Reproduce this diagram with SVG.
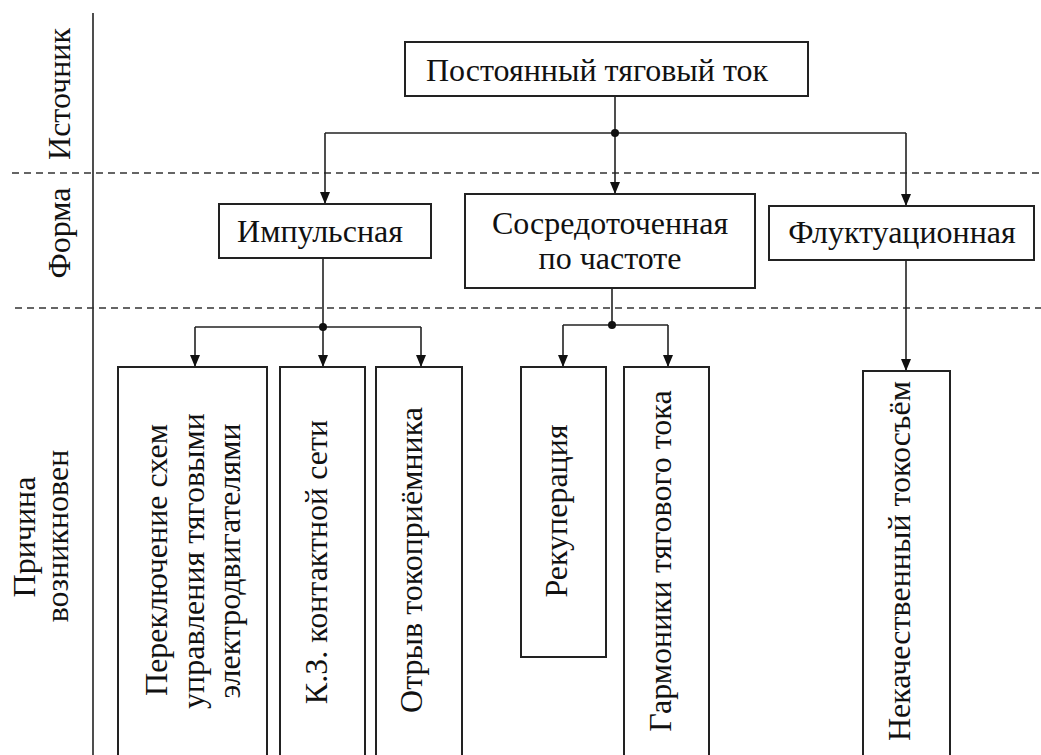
<svg xmlns="http://www.w3.org/2000/svg" width="1041" height="755" viewBox="0 0 1041 755">
  <style>
    .box { fill: #fff; stroke: #222; stroke-width: 2; }
    .lbl { font-size: 32px; fill: #111; }
    .mid { text-anchor: middle; }
    .wire { fill: none; stroke: #222; stroke-width: 1.6; }
    .arr { marker-end: url(#arrow); }
    .dash { stroke: #333; stroke-width: 1.4; stroke-dasharray: 7 5; fill: none; }
    .dot { fill: #111; }
  </style>
  <defs>
    <marker id="arrow" viewBox="0 0 12 10" refX="12" refY="5" markerWidth="12" markerHeight="10" markerUnits="userSpaceOnUse" orient="auto">
      <path d="M0,0 L12,5 L0,10 z" fill="#111"/>
    </marker>
  </defs>
  <rect width="1041" height="755" fill="#fff"/>

  <g font-family="'Liberation Serif', 'DejaVu Serif', serif">
  <!-- level separators and row labels -->
  <g id="levels">
    <line x1="93" y1="13" x2="93" y2="755" class="wire"/>
    <line x1="12" y1="173" x2="1041" y2="173" class="dash"/>
    <line x1="15" y1="308" x2="1041" y2="308" class="dash"/>
    <text class="lbl mid" transform="translate(70,94) rotate(-90)">Источник</text>
    <text class="lbl mid" transform="translate(70,233) rotate(-90)">Форма</text>
    <text class="lbl mid" transform="translate(35,537) rotate(-90)">Причина</text>
    <text class="lbl mid" transform="translate(68,536) rotate(-90)">возникновен</text>
  </g>

  <!-- connectors -->
  <g id="connectors">
    <polyline class="wire" points="615,96 615,133"/>
    <polyline class="wire" points="325,133 906,133"/>
    <polyline class="wire arr" points="325,133 325,204"/>
    <polyline class="wire arr" points="615,133 615,194"/>
    <polyline class="wire arr" points="906,133 906,206"/>
    <circle class="dot" cx="615" cy="133" r="4"/>

    <polyline class="wire" points="323,258 323,327"/>
    <polyline class="wire" points="195,327 421,327"/>
    <polyline class="wire arr" points="195,327 195,367"/>
    <polyline class="wire arr" points="323,327 323,367"/>
    <polyline class="wire arr" points="421,327 421,367"/>
    <circle class="dot" cx="323" cy="327" r="4"/>

    <polyline class="wire" points="612,288 612,325"/>
    <polyline class="wire" points="563,325 668,325"/>
    <polyline class="wire arr" points="563,325 563,367"/>
    <polyline class="wire arr" points="668,325 668,367"/>
    <circle class="dot" cx="612" cy="325" r="4"/>

    <polyline class="wire arr" points="906,260 906,371"/>
  </g>

  <!-- source -->
  <g id="n-source">
    <rect class="box" x="405" y="42" width="403" height="54"/>
    <text class="lbl mid" x="597" y="81">Постоянный тяговый ток</text>
  </g>

  <!-- forms -->
  <g id="n-impulse">
    <rect class="box" x="219" y="204" width="212" height="54"/>
    <text class="lbl mid" x="320" y="242">Импульсная</text>
  </g>
  <g id="n-concentrated">
    <rect class="box" x="465" y="194" width="290" height="94"/>
    <text class="lbl mid" x="610" y="234">Сосредоточенная</text>
    <text class="lbl mid" x="610" y="269">по частоте</text>
  </g>
  <g id="n-fluct">
    <rect class="box" x="769" y="206" width="265" height="54"/>
    <text class="lbl mid" x="902" y="243">Флуктуационная</text>
  </g>

  <!-- causes -->
  <g id="n-switching">
    <rect class="box" x="118" y="367" width="149" height="400"/>
    <text class="lbl mid" transform="translate(167,560) rotate(-90)">Переключение схем</text>
    <text class="lbl mid" transform="translate(204,561) rotate(-90)">управления тяговыми</text>
    <text class="lbl mid" transform="translate(240,561) rotate(-90)">электродвигателями</text>
  </g>
  <g id="n-shortcircuit">
    <rect class="box" x="280" y="367" width="85" height="400"/>
    <text class="lbl mid" transform="translate(327,562) rotate(-90)">К.З. контактной сети</text>
  </g>
  <g id="n-pantograph">
    <rect class="box" x="376" y="367" width="86" height="400"/>
    <text class="lbl mid" transform="translate(422,560) rotate(-90)">Отрыв токоприёмника</text>
  </g>
  <g id="n-recuperation">
    <rect class="box" x="521" y="367" width="85" height="290"/>
    <text class="lbl mid" transform="translate(567,511) rotate(-90)">Рекуперация</text>
  </g>
  <g id="n-harmonics">
    <rect class="box" x="624" y="367" width="85" height="400"/>
    <text class="lbl mid" transform="translate(671,561) rotate(-90)">Гармоники тягового тока</text>
  </g>
  <g id="n-collection">
    <rect class="box" x="863" y="371" width="87" height="400"/>
    <text class="lbl mid" transform="translate(910,561) rotate(-90)">Некачественный токосъём</text>
  </g>
  </g>
</svg>
